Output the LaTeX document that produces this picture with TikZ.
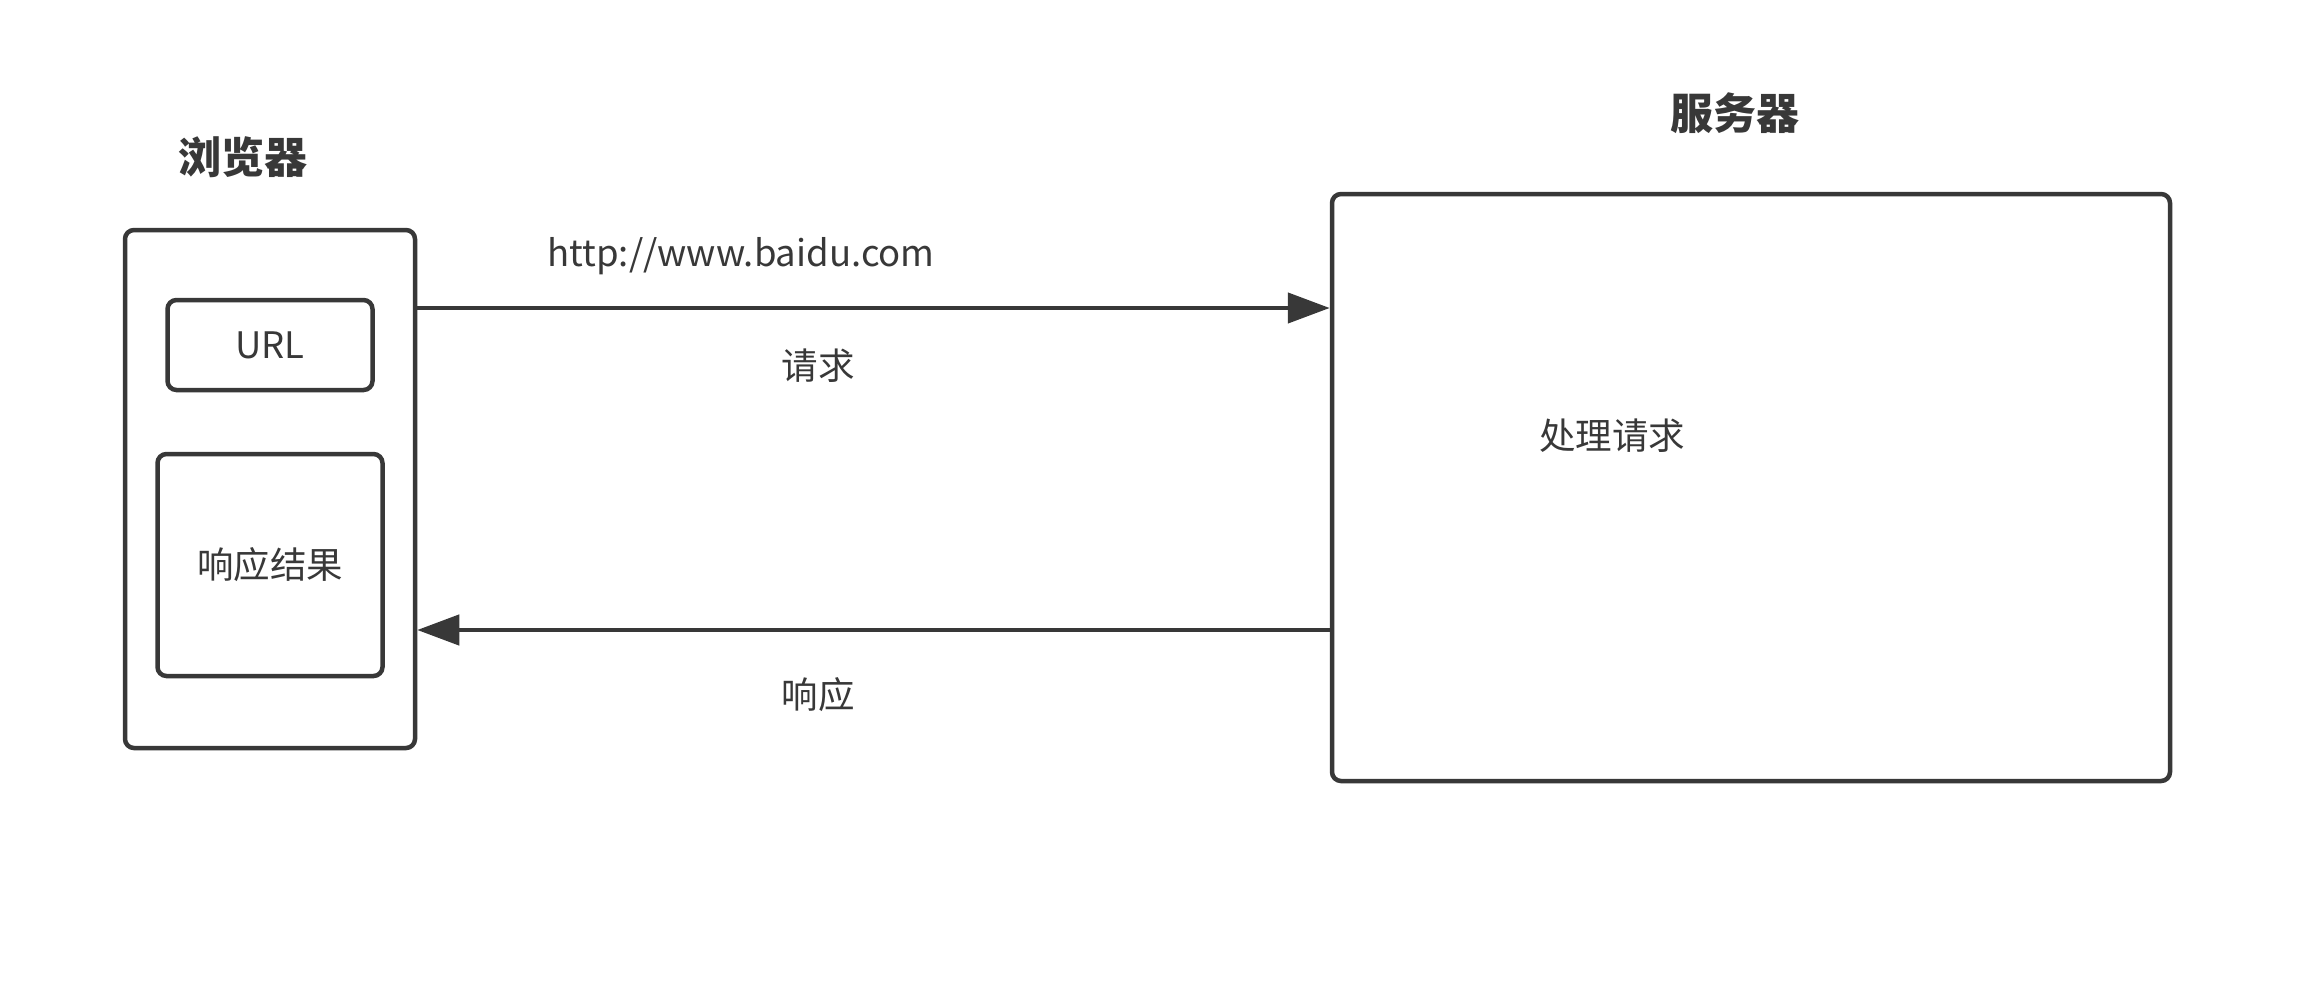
\documentclass[tikz,border=0pt]{standalone}
\usepackage{fontspec}
\setmainfont{Noto Sans CJK SC}
\usetikzlibrary{arrows.meta}
\definecolor{ink}{HTML}{383838}
\begin{document}
\begin{tikzpicture}[x=1pt,y=-1pt,
  box/.style={draw=ink, line width=4.5pt, rounded corners=9pt, inner sep=0pt},
  label/.style={text=ink, font=\fontsize{36.5}{42}\selectfont, inner sep=0pt},
  title/.style={text=ink, font=\fontsize{43}{50}\selectfont\bfseries, inner sep=0pt},
  conn/.style={draw=ink, line width=4.5pt, -{Triangle[length=42pt,width=30pt]}}]
  \useasboundingbox[fill=white] (0,0) rectangle (2310,996);

  % browser side
  \node[title] (browserTitle) at (243,157) {浏览器};
  \node[box, minimum width=290pt, minimum height=518pt] (browser) at (270,489) {};
  \node[box, minimum width=205pt, minimum height=90pt, label] (url) at (270,345) {URL};
  \node[box, minimum width=225pt, minimum height=222pt, label] (result) at (270,565) {响应结果};

  % server side
  \node[title] (serverTitle) at (1735,113) {服务器};
  \node[box, minimum width=838pt, minimum height=587pt] (server) at (1751,487.5) {};
  \node[label] (process) at (1612,436) {处理请求};

  % request and response connectors
  \coordinate (reqy) at (0,308);
  \coordinate (resy) at (0,630);
  \draw[conn] (browser.east |- reqy) -- (server.west |- reqy);
  \draw[conn] (server.west |- resy) -- (browser.east |- resy);

  \node[label] (urlText) at (741,256) {http://www.baidu.com};
  \node[label] (reqText) at (818,366) {请求};
  \node[label] (resText) at (818,695) {响应};
\end{tikzpicture}
\end{document}
